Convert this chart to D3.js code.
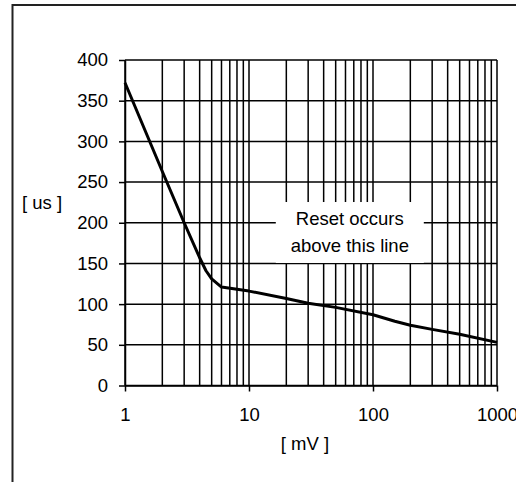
<!DOCTYPE html>
<html>
<head>
<meta charset="utf-8">
<script src="https://cdn.jsdelivr.net/npm/d3@7/dist/d3.min.js"></script>
<style>
  body { margin: 0; background: #fff; }
  svg text { font-family: Arial, "Liberation Sans", sans-serif; fill: #000; }
</style>
</head>
<body>
<div id="chart"></div>
<script>
var width = 516;
var height = 482;
var margin = {top: 60, right: 19, bottom: 96.5, left: 125};
var fontSize = "18.5px";

// reset threshold curve
var voltage = [1, 2, 3, 4, 4.5, 5, 6, 10, 20, 30, 50, 100, 150, 200, 300, 500, 1000];
var duration = [372, 263, 200, 157, 141, 131, 121, 116, 107, 101, 96, 87, 79, 74, 69, 63, 53];

var xLabels = [1, 10, 100, 1000];
var yTicks = [0, 50, 100, 150, 200, 250, 300, 350, 400];
var noteLines = ["Reset occurs", "above this line"];

var svg = d3.select("#chart").append("svg")
    .attr("width", width)
    .attr("height", height);

// outer frame, runs off the right and bottom edges
svg.append("rect")
    .attr("x", 12.5)
    .attr("y", 5)
    .attr("width", 600)
    .attr("height", 600)
    .attr("fill", "none")
    .attr("stroke", "#222")
    .attr("stroke-width", 2);

var x = d3.scaleLog()
    .domain([1, 1000])
    .range([margin.left, width - margin.right]);

var y = d3.scaleLinear()
    .domain([0, 400])
    .range([height - margin.bottom, margin.top]);

var grid = svg.append("g")
    .attr("stroke", "#000")
    .attr("stroke-width", 1.5);

grid.selectAll("line.v")
    .data(x.ticks())
    .join("line")
    .attr("class", "v")
    .attr("x1", d => x(d))
    .attr("x2", d => x(d))
    .attr("y1", y(0))
    .attr("y2", y(400));

grid.selectAll("line.h")
    .data(yTicks)
    .join("line")
    .attr("class", "h")
    .attr("x1", x(1))
    .attr("x2", x(1000))
    .attr("y1", d => y(d))
    .attr("y2", d => y(d));

// axes
var xAxis = svg.append("g")
    .attr("transform", "translate(0," + y(0) + ")")
    .call(d3.axisBottom(x)
        .tickValues(xLabels)
        .tickFormat(d3.format("d"))
        .tickSize(6)
        .tickSizeOuter(0)
        .tickPadding(16));

var yAxis = svg.append("g")
    .attr("transform", "translate(" + x(1) + ",0)")
    .call(d3.axisLeft(y)
        .tickValues(yTicks)
        .tickSize(6)
        .tickSizeOuter(0)
        .tickPadding(11));

[xAxis, yAxis].forEach(function(a) {
    a.selectAll("path, line").attr("stroke", "#000").attr("stroke-width", 1.5);
    a.selectAll("text").style("font-size", fontSize).attr("fill", "#000");
});

// note box, covers the grid
var noteX = x(65);
var noteY = y(188);
svg.append("rect")
    .attr("x", noteX - 74)
    .attr("y", noteY - 30.5)
    .attr("width", 148)
    .attr("height", 61)
    .attr("fill", "#fff");

svg.append("g")
    .selectAll("text")
    .data(noteLines)
    .join("text")
    .attr("x", noteX)
    .attr("y", (d, i) => noteY - 8 + i * 27)
    .attr("text-anchor", "middle")
    .style("font-size", fontSize)
    .text(d => d);

// curve
var line = d3.line()
    .x(d => x(d[0]))
    .y(d => y(d[1]));

svg.append("path")
    .datum(d3.zip(voltage, duration))
    .attr("d", line)
    .attr("fill", "none")
    .attr("stroke", "#000")
    .attr("stroke-width", 3)
    .attr("stroke-linejoin", "round");

// axis titles
svg.append("text")
    .attr("x", 22)
    .attr("y", 209)
    .style("font-size", fontSize)
    .text("[ us ]");

svg.append("text")
    .attr("x", 305)
    .attr("y", 450)
    .attr("text-anchor", "middle")
    .style("font-size", fontSize)
    .text("[ mV ]");
</script>
</body>
</html>
